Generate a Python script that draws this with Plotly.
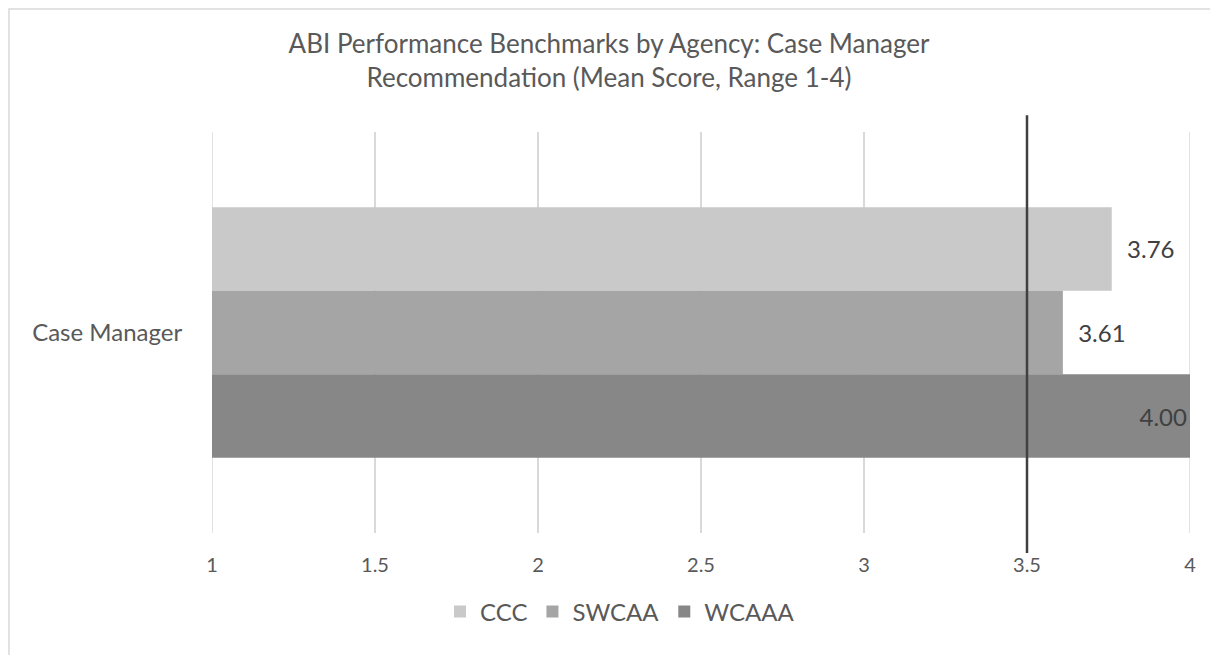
import plotly.graph_objects as go

categories = ["Case Manager"]
agencies = ["CCC", "SWCAA", "WCAAA"]
ccc = [3.76]
swcaa = [3.61]
wcaaa = [4.00]
benchmark = 3.5
x_ticks = [1, 1.5, 2, 2.5, 3, 3.5, 4]
x_tick_labels = ["1", "1.5", "2", "2.5", "3", "3.5", "4"]

series = [ccc, swcaa, wcaaa]
colors = ["#c9c9c9", "#a5a5a5", "#878787"]
FONT = "Lato"
TXT = "#595959"

# the page body adds an 8px offset; the figure is sized to compensate
W, H = 1210, 647

fig = go.Figure()
x_max = max(x_ticks)
for name, vals, col in zip(agencies, series, colors):
    pos = ["inside" if v >= x_max else "outside" for v in vals]
    txt = [f"{v:.2f}" if v >= x_max else f"\u00a0\u00a0{v:.2f}" for v in vals]
    fig.add_trace(go.Bar(
        y=categories, x=vals, name=name, orientation="h",
        marker=dict(color=col, line=dict(width=0)),
        text=txt, textposition=pos,
        insidetextanchor="end", textangle=0,
        textfont=dict(family=FONT, size=24, color="#404040"),
        outsidetextfont=dict(family=FONT, size=24, color="#404040"),
        insidetextfont=dict(family=FONT, size=24, color="#404040"),
        cliponaxis=False,
    ))

# gridlines at the axis ends (plotly omits them at the range edges)
for xv in (x_ticks[0], x_ticks[-1]):
    fig.add_shape(type="line", xref="x", yref="paper", x0=xv, x1=xv, y0=0, y1=1,
                  line=dict(color="#d9d9d9", width=1.5), layer="below")

# benchmark line
fig.add_shape(type="line", xref="x", yref="paper",
              x0=benchmark, x1=benchmark, y0=-0.05, y1=1.042,
              line=dict(color="#404040", width=2.5), layer="above")
# chart border (plot area spans 978 x 401 px)
fig.add_shape(type="rect", xref="paper", yref="paper",
              x0=(1 - 204) / 978, x1=1.05, y0=-0.36, y1=(124 - 1) / 401 + 1,
              line=dict(color="#d9d9d9", width=1.5), layer="below")

fig.update_layout(
    width=W, height=H,
    margin=dict(l=204, r=28, t=124, b=122),
    paper_bgcolor="white", plot_bgcolor="white",
    barmode="group", bargap=0.375, bargroupgap=0,
    title=dict(
        text="ABI Performance Benchmarks by Agency: Case Manager<br>Recommendation (Mean Score, Range 1-4)",
        x=601 / W, xanchor="center", xref="container",
        y=1 - 45 / H, yanchor="middle", yref="container",
        font=dict(family=FONT, size=26, color=TXT),
    ),
    xaxis=dict(
        range=[1, 4], tickvals=x_ticks, ticktext=x_tick_labels,
        showgrid=True, gridcolor="#d9d9d9", gridwidth=1.5,
        zeroline=False, showline=False,
        ticks="outside", ticklen=14, tickcolor="rgba(0,0,0,0)",
        tickfont=dict(family=FONT, size=20, color=TXT),
        fixedrange=True,
    ),
    yaxis=dict(
        autorange="reversed", showgrid=False, zeroline=False, showline=False,
        ticks="outside", ticklen=24, tickcolor="rgba(0,0,0,0)",
        tickfont=dict(family=FONT, size=24, color=TXT),
    ),
    legend=dict(
        orientation="h", xref="container", yref="container",
        x=612 / W, xanchor="center", y=1 - 604 / H, yanchor="middle",
        font=dict(family=FONT, size=24, color=TXT),
        itemwidth=30, traceorder="normal",
    ),
    showlegend=True,
)

fig.write_html("out.html")
